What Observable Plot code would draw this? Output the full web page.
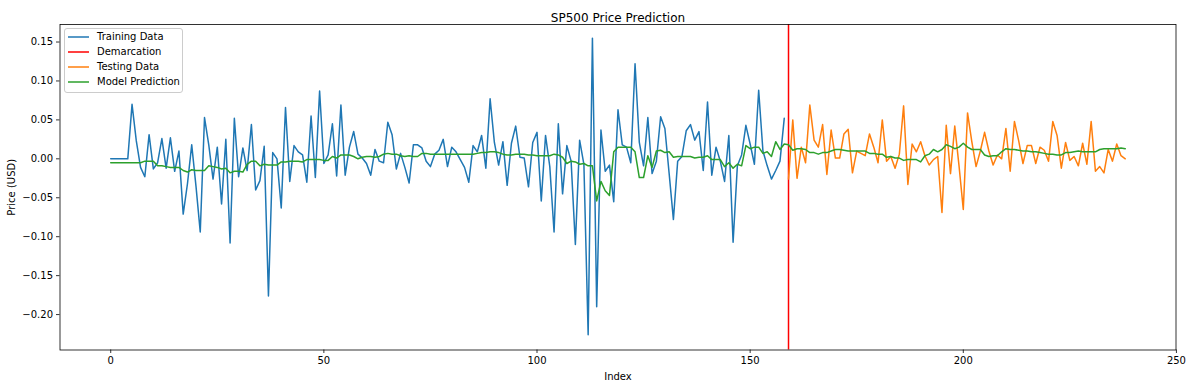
<!DOCTYPE html>
<html>
<head>
<meta charset="utf-8">
<script src="https://cdn.jsdelivr.net/npm/d3@7"></script>
<script src="https://cdn.jsdelivr.net/npm/@observablehq/plot@0.6"></script>
<style>
  html, body { margin: 0; padding: 0; background: white; }
  #wrap { position: relative; width: 1191px; height: 387px; font-family: "DejaVu Sans", sans-serif; }
  #legend { position: absolute; left: 64px; top: 27.5px; width: 117px; padding: 0 0 3px 0;
            border: 1px solid #cccccc; border-radius: 3px; background: rgba(255,255,255,0.8);
            font-size: 10px; color: #000; }
  .row { position: relative; height: 15px; line-height: 15px; }
  .sw { position: absolute; left: 2px; top: 5px; width: 23px; height: 6px; overflow: visible; }
  .lb { position: absolute; left: 32px; top: 0; white-space: nowrap; }
</style>
</head>
<body>
<div id="wrap"><div id="legend"></div></div>
<script>
// Training data (index 0..158)
const trainValues = [
  0,0,0,0,0,0.070,0.023,-0.011,-0.023,0.031,
  -0.013,-0.005,0.026,-0.012,0.027,-0.016,0.010,-0.071,-0.032,0.018,
  -0.035,-0.094,0.053,0.018,-0.026,0.015,-0.058,0.025,-0.108,0.052,
  -0.023,0.014,-0.015,0.044,-0.040,-0.028,0.016,-0.176,0.008,0.000,
  -0.063,0.066,-0.029,0.017,0.009,0.005,-0.030,0.055,-0.024,0.087,
  -0.006,0.005,0.045,-0.022,0.069,-0.021,0.015,0.035,0.006,0.001,
  -0.006,-0.021,0.012,-0.003,-0.005,0.047,0.031,-0.013,0.007,-0.011,
  -0.031,0.018,0.018,0.014,-0.003,-0.010,0.006,0.011,0.025,-0.010,
  0.015,0.009,-0.001,-0.011,-0.030,0.017,0.009,0.030,-0.012,0.077,
  0.021,-0.008,0.022,-0.034,0.020,0.042,0.002,0.001,-0.036,0.021,
  0.034,-0.054,0.030,-0.010,-0.094,0.045,-0.045,0.017,-0.003,-0.110,
  0.024,-0.007,-0.226,0.155,-0.190,0.037,-0.016,-0.008,-0.055,0.063,
  0.018,0.015,-0.005,0.122,0.021,-0.009,0.053,-0.019,-0.003,0.054,
  0.039,-0.019,-0.078,-0.003,0.003,0.036,0.044,0.024,0.035,-0.015,
  0.073,-0.021,0.015,-0.003,-0.029,0.030,-0.107,-0.009,0.005,0.043,
  0.019,-0.007,0.088,0.010,-0.009,-0.026,-0.015,-0.003,0.052
];
// Testing data (index 159..238)
const testStart = 159;
const testValues = [
  -0.026,0.050,-0.025,0.015,-0.005,0.069,0.024,0.015,0.044,-0.020,
  0.037,0.001,0.001,0.032,0.038,-0.018,0.010,0.007,0.004,0.032,
  0.015,-0.005,0.050,-0.003,0.003,-0.012,0.006,0.068,-0.033,0.019,
  0.009,0.022,0.004,-0.008,-0.001,0.003,-0.069,0.043,-0.019,0.042,
  -0.009,-0.065,0.059,0.022,-0.010,0.010,0.034,0.010,-0.008,0.005,
  0.000,0.039,-0.016,0.048,0.023,-0.006,0.017,0.017,-0.006,0.015,
  0.011,-0.003,0.048,0.030,-0.012,0.021,-0.002,0.003,-0.009,0.020,
  -0.007,0.048,-0.016,-0.010,-0.018,0.012,-0.003,0.019,0.004,0.000
];
// Model prediction (index 0..238)
const predValues = [
  -0.005,-0.005,-0.005,-0.005,-0.005,-0.005,-0.005,-0.005,-0.003,-0.003,
  -0.003,-0.009,-0.009,-0.010,-0.011,-0.011,-0.011,-0.015,-0.017,-0.014,
  -0.015,-0.015,-0.015,-0.009,-0.010,-0.011,-0.013,-0.012,-0.018,-0.016,
  -0.016,-0.017,-0.007,-0.003,-0.003,-0.009,-0.007,-0.008,-0.008,-0.008,
  -0.004,-0.004,-0.003,-0.003,-0.003,-0.004,-0.001,-0.001,-0.001,-0.001,
  -0.002,-0.002,0.003,0.001,0.005,0.005,0.005,0.003,0.000,0.002,
  0.003,0.003,0.002,0.003,0.006,0.007,0.006,0.006,0.004,0.003,
  0.004,0.003,0.003,0.007,0.007,0.006,0.006,0.006,0.006,0.006,
  0.006,0.006,0.006,0.006,0.006,0.006,0.007,0.008,0.008,0.009,
  0.009,0.008,0.006,0.005,0.005,0.006,0.006,0.006,0.005,0.005,
  0.004,0.004,0.004,0.004,0.006,0.005,0.002,-0.006,-0.003,-0.004,
  -0.007,-0.006,-0.009,-0.009,-0.054,-0.029,-0.041,-0.047,0.009,0.015,
  0.015,0.015,0.015,0.009,-0.024,-0.024,0.004,-0.011,0.010,0.011,
  0.008,0.009,0.002,0.003,0.003,0.003,0.003,0.001,0.002,0.002,
  0.004,-0.001,-0.001,-0.001,-0.010,-0.005,-0.012,-0.007,-0.009,0.017,
  0.013,0.015,0.015,0.007,0.009,0.003,0.022,0.012,0.019,0.018,
  0.011,0.013,0.013,0.012,0.008,0.008,0.006,0.008,0.008,0.010,
  0.012,0.012,0.011,0.010,0.010,0.010,0.010,0.010,0.007,0.007,
  0.006,0.006,0.002,0.003,0.001,0.001,-0.002,-0.001,-0.001,-0.001,
  -0.004,0.004,0.006,0.012,0.009,0.012,0.018,0.016,0.013,0.015,
  0.020,0.015,0.012,0.012,0.012,0.005,0.003,0.004,0.004,0.009,
  0.013,0.012,0.012,0.011,0.010,0.010,0.009,0.009,0.008,0.007,
  0.006,0.006,0.005,0.005,0.008,0.008,0.009,0.010,0.009,0.009,
  0.009,0.009,0.012,0.013,0.013,0.013,0.013,0.014,0.013
];
const demarcation = [159];
const xTicks = [0, 50, 100, 150, 200, 250];
const yTicks = [-0.20, -0.15, -0.10, -0.05, 0.00, 0.05, 0.10, 0.15];
const seriesNames = ["Training Data", "Demarcation", "Testing Data", "Model Prediction"];
const seriesColors = ["#1f77b4", "#ff0000", "#ff7f0e", "#2ca02c"];
const titleText = "SP500 Price Prediction";

const train = trainValues.map((v, i) => ({x: i, y: v}));
const test = testValues.map((v, i) => ({x: testStart + i, y: v}));
const pred = predValues.map((v, i) => ({x: i, y: v}));

const chart = Plot.plot({
  width: 1191,
  height: 387,
  marginLeft: 59.5,
  marginRight: 15.5,
  marginTop: 24,
  marginBottom: 37.5,
  style: {fontFamily: "DejaVu Sans, sans-serif", fontSize: "10px", color: "black", background: "white", overflow: "visible"},
  x: {domain: [-11.9, 249.9]},
  y: {domain: [-0.2455, 0.1725]},
  marks: [
    Plot.axisX({ticks: xTicks, tickSize: 3.5, tickPadding: 3.5, tickFormat: d => String(d),
      label: "Index", labelAnchor: "center", labelOffset: 30, labelArrow: "none", strokeWidth: 0.8}),
    Plot.axisY({ticks: yTicks, tickSize: 3.5, tickPadding: 3.5, tickFormat: d3.format(".2f"),
      label: "Price (USD)", labelAnchor: "center", labelOffset: 52, labelArrow: "none", strokeWidth: 0.8}),
    Plot.line(train, {x: "x", y: "y", stroke: seriesColors[0], strokeWidth: 1.5}),
    Plot.ruleX(demarcation, {stroke: seriesColors[1], strokeWidth: 1.5}),
    Plot.line(test, {x: "x", y: "y", stroke: seriesColors[2], strokeWidth: 1.5}),
    Plot.line(pred, {x: "x", y: "y", stroke: seriesColors[3], strokeWidth: 1.5}),
    Plot.frame({stroke: "black", strokeWidth: 0.8}),
    Plot.text([titleText], {frameAnchor: "top", dy: -11, fontSize: 12, fill: "black"})
  ]
});

const wrap = document.getElementById("wrap");
wrap.insertBefore(chart, wrap.firstChild);

const SVGNS = "http://www.w3.org/2000/svg";
const legend = document.getElementById("legend");
seriesNames.forEach((name, i) => {
  const row = document.createElement("div");
  row.className = "row";
  const sw = document.createElementNS(SVGNS, "svg");
  sw.setAttribute("class", "sw");
  sw.setAttribute("width", "23");
  sw.setAttribute("height", "6");
  const ln = document.createElementNS(SVGNS, "line");
  ln.setAttribute("x1", "1"); ln.setAttribute("x2", "22");
  ln.setAttribute("y1", "3"); ln.setAttribute("y2", "3");
  ln.setAttribute("stroke", seriesColors[i]);
  ln.setAttribute("stroke-width", "1.5");
  sw.appendChild(ln);
  const lb = document.createElement("span");
  lb.className = "lb";
  lb.textContent = name;
  row.appendChild(sw);
  row.appendChild(lb);
  legend.appendChild(row);
});
</script>
</body>
</html>
